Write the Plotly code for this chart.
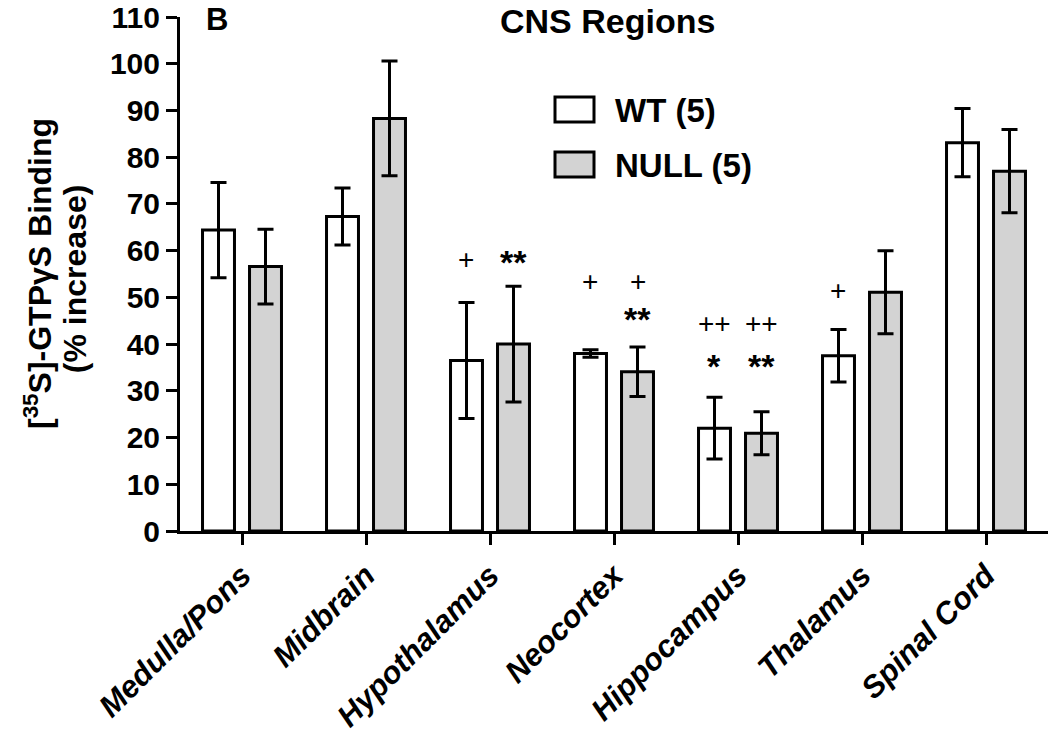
import plotly.graph_objects as go

regions = ["Medulla/Pons", "Midbrain", "Hypothalamus", "Neocortex",
           "Hippocampus", "Thalamus", "Spinal Cord"]
wt_mean = [64.4, 67.3, 36.5, 38.0, 22.0, 37.5, 83.1]
wt_err = [10.2, 6.1, 12.4, 0.8, 6.6, 5.6, 7.3]
null_mean = [56.6, 88.3, 40.0, 34.1, 20.9, 51.1, 77.0]
null_err = [8.0, 12.3, 12.4, 5.3, 4.6, 8.9, 8.9]

# significance marks: (region index, group offset sign, y value, text)
sig_marks = [
    (2, -1, 58.2, "+"), (2, 1, 58.2, "**"),
    (3, -1, 53.5, "+"), (3, 1, 53.5, "+"), (3, 1, 46.0, "**"),
    (4, -1, 44.5, "++"), (4, 1, 44.5, "++"),
    (4, -1, 36.0, "*"), (4, 1, 36.0, "**"),
    (5, -1, 51.4, "+"),
]

legend_names = ["WT (5)", "NULL (5)"]
FONT = "Liberation Sans, Arial, sans-serif"
GRAY = "#d3d3d3"

fig = go.Figure()
fig.add_trace(go.Bar(
    x=regions, y=wt_mean, name=legend_names[0],
    marker=dict(color="white", line=dict(color="black", width=3)),
    error_y=dict(type="data", array=wt_err, color="black", thickness=3, width=8),
    showlegend=False,
))
fig.add_trace(go.Bar(
    x=regions, y=null_mean, name=legend_names[1],
    marker=dict(color=GRAY, line=dict(color="black", width=3)),
    error_y=dict(type="data", array=null_err, color="black", thickness=3, width=8),
    showlegend=False,
))

L, R, T, B = 180, 2, 17, 205
W, H = 1050, 736
pw, ph = W - L - R, H - T - B


def px(xp):
    return (xp - L) / pw


def py(yp):
    return (H - B - yp) / ph


annotations = []
for idx, sgn, yv, txt in sig_marks:
    is_star = "*" in txt
    annotations.append(dict(
        x=idx + sgn * 0.19, y=yv, xref="x", yref="y", text=txt, showarrow=False,
        font=dict(family=FONT, size=34 if is_star else 28, color="black",
                  weight="bold" if is_star else "normal"),
        xanchor="center", yanchor="middle", yshift=-3 if is_star else 0,
    ))

# panel label and title
annotations.append(dict(x=px(204), y=py(20), xref="paper", yref="paper", text="B",
                        showarrow=False, xanchor="left", yanchor="middle",
                        font=dict(family=FONT, size=31, color="black", weight="bold")))
annotations.append(dict(x=px(607), y=py(21), xref="paper", yref="paper", text="CNS Regions",
                        showarrow=False, xanchor="center", yanchor="middle",
                        font=dict(family=FONT, size=34, color="black", weight="bold")))

# y-axis title (two lines placed individually)
annotations.append(dict(x=px(38), y=0.5, xref="paper", yref="paper",
                        text="[<sup>35</sup>S]-GTPγS Binding", textangle=-90,
                        showarrow=False, xanchor="center", yanchor="middle",
                        font=dict(family=FONT, size=32, color="black", weight="bold")))
annotations.append(dict(x=px(75), y=0.49, xref="paper", yref="paper",
                        text="(% increase)", textangle=-90,
                        showarrow=False, xanchor="center", yanchor="middle",
                        font=dict(family=FONT, size=32, color="black", weight="bold")))

# legend
shapes = []
leg_rows = [(109.5, "white"), (164.5, GRAY)]
for (yc, col), name in zip(leg_rows, legend_names):
    shapes.append(dict(type="rect", xref="paper", yref="paper",
                       x0=px(555), x1=px(594), y0=py(yc + 12.5), y1=py(yc - 12.5),
                       fillcolor=col, line=dict(color="black", width=3)))
    annotations.append(dict(x=px(613), y=py(yc + 1), xref="paper", yref="paper", text=name,
                            showarrow=False, xanchor="left", yanchor="middle",
                            font=dict(family=FONT, size=33, color="black", weight="bold")))

fig.update_layout(
    width=W, height=H,
    margin=dict(l=L, r=R, t=T, b=B, autoexpand=False),
    paper_bgcolor="white", plot_bgcolor="white",
    barmode="group", bargap=0.242, bargroupgap=0.32,
    annotations=annotations, shapes=shapes,
    font=dict(family=FONT, color="black"),
)
fig.update_xaxes(
    type="category", range=[-0.5, 6.5], showline=True, linecolor="black", linewidth=3,
    ticks="outside", ticklen=11, tickwidth=3, tickcolor="black",
    tickangle=-45, automargin=False, showgrid=False,
    tickfont=dict(family=FONT, size=31, color="black", weight="bold", style="italic"),
)
fig.update_yaxes(
    range=[0, 110], dtick=10, tick0=0, showline=True, linecolor="black", linewidth=3,
    ticks="outside", ticklen=11, tickwidth=3, tickcolor="black",
    showgrid=False, zeroline=False, automargin=False,
    tickfont=dict(family=FONT, size=30, color="black", weight="bold"),
)

fig.write_html("out.html", config={"displayModeBar": False},
               post_script="document.body.style.margin='0';")
